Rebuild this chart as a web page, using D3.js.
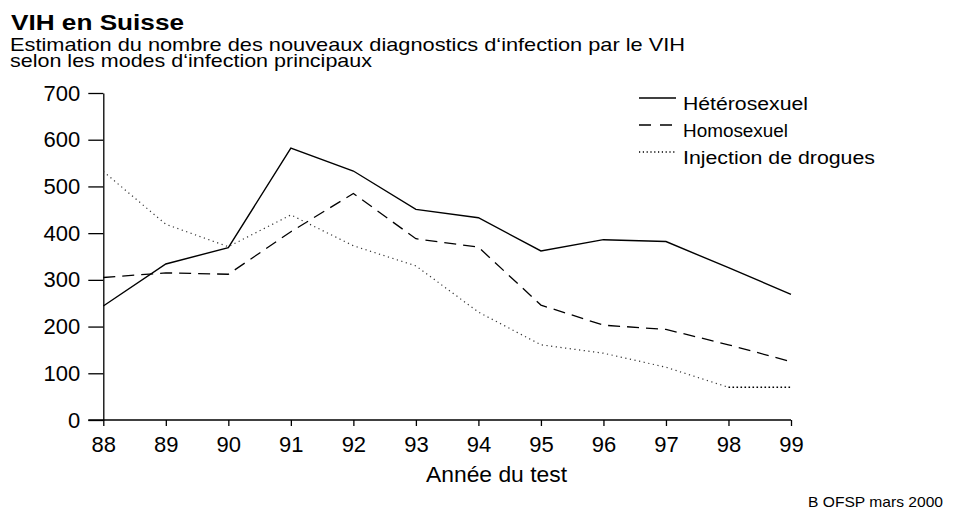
<!DOCTYPE html>
<html>
<head>
<meta charset="utf-8">
<script src="https://cdn.jsdelivr.net/npm/d3@7"></script>
<style>
  body { margin: 0; background: #fff; }
  text { font-family: "Liberation Sans", Arial, sans-serif; fill: #000; }
</style>
</head>
<body>
<script>
// data
var years = ["88", "89", "90", "91", "92", "93", "94", "95", "96", "97", "98", "99"];
var hetero = [244, 334, 369, 582, 533, 451, 433, 362, 386, 382, 326, 269];
var homo = [305, 315, 312, 403, 485, 388, 370, 246, 203, 194, 161, 125];
var injection = [532, 419, 371, 439, 373, 330, 231, 161, 143, 113, 70, 70];
var yTicks = [0, 100, 200, 300, 400, 500, 600, 700];
var seriesNames = ["Hétérosexuel", "Homosexuel", "Injection de drogues"];

var width = 960, height = 511;

var svg = d3.select("body")
  .append("svg")
  .attr("width", width)
  .attr("height", height);

var x = d3.scalePoint()
  .domain(years)
  .range([103.3, 791]);

var y = d3.scaleLinear()
  .domain([0, 700])
  .range([420, 93]);

// titles (text widths fitted to the original lettering)
function fitText(g, px, py, size, len, str, bold) {
  return g.append("text")
    .attr("x", px).attr("y", py)
    .style("font-size", size + "px")
    .style("font-weight", bold ? "bold" : "normal")
    .attr("textLength", len)
    .attr("lengthAdjust", "spacingAndGlyphs")
    .text(str);
}

fitText(svg, 11, 30, 22, 173, "VIH en Suisse", true);
fitText(svg, 10, 51, 18.5, 675, "Estimation du nombre des nouveaux diagnostics d\u2018infection par le VIH");
fitText(svg, 10, 67, 18.5, 362, "selon les modes d\u2018infection principaux");

// axes
var xAxis = svg.append("g")
  .attr("transform", "translate(0," + y(0) + ")")
  .call(d3.axisBottom(x).tickSize(6).tickPadding(10).tickSizeOuter(0));

var yAxis = svg.append("g")
  .attr("transform", "translate(" + x("88") + ",0)")
  .call(d3.axisLeft(y).tickValues(yTicks).tickSize(15).tickPadding(8).tickSizeOuter(0));

[xAxis, yAxis].forEach(function(g) {
  g.select(".domain").attr("stroke", "#000").attr("stroke-width", 1.3);
  g.selectAll(".tick line").attr("stroke", "#000").attr("stroke-width", 1.3);
  g.selectAll(".tick text")
    .style("font-family", "Liberation Sans, Arial, sans-serif")
    .style("font-size", "22px")
    .attr("fill", "#000");
});

// x axis line runs left to meet the y ticks
xAxis.select(".domain").attr("d", "M" + (x("88") - 15) + ",0H" + x("99"));

fitText(svg, 426, 482, 22, 141, "Année du test");

// lines
var line = d3.line()
  .x(function(d, i) { return x(years[i]); })
  .y(function(d) { return y(d); });

svg.append("path")
  .attr("d", line(hetero))
  .attr("fill", "none")
  .attr("stroke", "#000")
  .attr("stroke-width", 1.4);

svg.append("path")
  .attr("d", line(homo))
  .attr("fill", "none")
  .attr("stroke", "#000")
  .attr("stroke-width", 1.3)
  .attr("stroke-dasharray", "12,7");

// injection: dotted, last segment with denser dots
var lineSub = d3.line()
  .x(function(d) { return x(d.year); })
  .y(function(d) { return y(d.value); });

var inj = injection.map(function(v, i) { return { year: years[i], value: v }; });

svg.append("path")
  .attr("d", lineSub(inj.slice(0, 11)))
  .attr("fill", "none")
  .attr("stroke", "#333")
  .attr("stroke-width", 1.2)
  .attr("stroke-dasharray", "1.2,3.5");

svg.append("path")
  .attr("d", lineSub(inj.slice(10)))
  .attr("fill", "none")
  .attr("stroke", "#000")
  .attr("stroke-width", 1.6)
  .attr("stroke-dasharray", "1.6,2.4");

// legend
var dashes = [null, "12,9", "1.2,2.6"];
var legendWidths = [125, 105, 192];
var legend = svg.append("g")
  .attr("transform", "translate(639,110)");

var item = legend.selectAll(".leg")
  .data(seriesNames)
  .enter()
  .append("g")
  .attr("class", "leg")
  .attr("transform", function(d, i) { return "translate(0," + (i * 27) + ")"; });

item.append("line")
  .attr("x1", 0).attr("x2", 37)
  .attr("y1", -12).attr("y2", -12)
  .attr("stroke", "#000")
  .attr("stroke-width", 1.3)
  .attr("stroke-dasharray", function(d, i) { return dashes[i]; });

item.append("text")
  .attr("x", 44).attr("y", 0)
  .style("font-size", "17.5px")
  .attr("textLength", function(d, i) { return legendWidths[i]; })
  .attr("lengthAdjust", "spacingAndGlyphs")
  .text(function(d) { return d; });

// source
fitText(svg, 808, 507, 15, 135, "B OFSP mars 2000");
</script>
</body>
</html>
